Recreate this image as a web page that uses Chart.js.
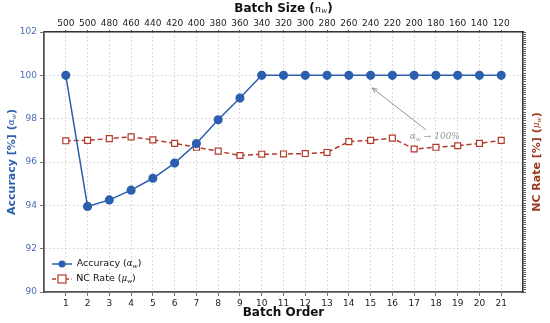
<!DOCTYPE html>
<html>
<head>
<meta charset="utf-8">
<script src="https://cdn.jsdelivr.net/npm/chart.js@4.4.0/dist/chart.umd.min.js"></script>
<style>
  html, body { margin: 0; padding: 0; background: #fff; }
</style>
</head>
<body>
<canvas id="myChart" width="550" height="323"></canvas>
<script>
const batchOrder = [1, 2, 3, 4, 5, 6, 7, 8, 9, 10, 11, 12, 13, 14, 15, 16, 17, 18, 19, 20, 21];
const batchSize = [500, 500, 480, 460, 440, 420, 400, 380, 360, 340, 320, 300, 280, 260, 240, 220, 200, 180, 160, 140, 120];
const accuracy = [100, 93.95, 94.25, 94.7, 95.25, 95.95, 96.85, 97.95, 98.95, 100, 100, 100, 100, 100, 100, 100, 100, 100, 100, 100, 100];
const ncRate = [96.98, 97.0, 97.08, 97.16, 97.02, 96.86, 96.68, 96.5, 96.3, 96.36, 96.37, 96.39, 96.44, 96.94, 97.0, 97.1, 96.6, 96.68, 96.75, 96.86, 97.0];
const yTicks = [90, 92, 94, 96, 98, 100, 102];

const BLUE = "#2c5fae";
const RED = "#b23b2c";
const FONT = "'DejaVu Sans', sans-serif";

// dense minor ticks on the right axis
const rightTicks = [];
for (let i = 0; i <= 120; i++) rightTicks.push(90 + i * 0.1);

function richText(ctx, parts, x, y, rot) {
  ctx.save();
  ctx.translate(x, y);
  ctx.rotate(rot || 0);
  let w = 0;
  parts.forEach((p) => { ctx.font = p.font; w += ctx.measureText(p.text).width; });
  let cx = -w / 2;
  ctx.textBaseline = "middle";
  ctx.textAlign = "left";
  parts.forEach((p) => {
    ctx.font = p.font;
    ctx.fillStyle = p.color;
    ctx.fillText(p.text, cx, p.dy || 0);
    cx += ctx.measureText(p.text).width;
  });
  ctx.restore();
}

function sub(label, sym, color, size) {
  return [
    { text: label + " (", font: "bold " + size + "px " + FONT, color: color },
    { text: sym, font: "italic " + (size - 2) + "px 'DejaVu Serif', serif", color: color },
    { text: "w", font: "italic " + (size - 5) + "px 'DejaVu Serif', serif", color: color, dy: 2 },
    { text: ")", font: "bold " + size + "px " + FONT, color: color },
  ];
}

const extras = {
  id: "extras",
  afterDraw(chart) {
    const ctx = chart.ctx;
    const a = chart.chartArea;
    const x = chart.scales.x, y = chart.scales.y;
    const midX = (a.left + a.right) / 2;
    const midY = (a.top + a.bottom) / 2;

    // axis titles
    richText(ctx, [{ text: "Batch Order", font: "bold 12px " + FONT, color: "#111" }], midX, 313);
    richText(ctx, sub("Batch Size", "n", "#111", 12), midX, 9);
    richText(ctx, sub("Accuracy [%]", "α", BLUE, 11), 12, midY, -Math.PI / 2);
    richText(ctx, sub("NC Rate [%]", "μ", "#9a3a20", 11), 537, midY, -Math.PI / 2);

    // annotation arrow
    const tx = x.getPixelForValue(17.55), ty = y.getPixelForValue(97.48);
    const hx = x.getPixelForValue(15.07), hy = y.getPixelForValue(99.42);
    ctx.save();
    ctx.strokeStyle = "#8a8a8a";
    ctx.lineWidth = 0.9;
    ctx.beginPath();
    ctx.moveTo(tx, ty);
    ctx.lineTo(hx, hy);
    const ang = Math.atan2(hy - ty, hx - tx);
    ctx.moveTo(hx, hy);
    ctx.lineTo(hx - 6 * Math.cos(ang - 0.4), hy - 6 * Math.sin(ang - 0.4));
    ctx.moveTo(hx, hy);
    ctx.lineTo(hx - 6 * Math.cos(ang + 0.4), hy - 6 * Math.sin(ang + 0.4));
    ctx.stroke();
    ctx.restore();
    richText(ctx, [
      { text: "α", font: "italic 9px 'DejaVu Serif', serif", color: "#999" },
      { text: "w", font: "italic 6px 'DejaVu Serif', serif", color: "#999", dy: 2 },
      { text: " → 100%", font: "italic 9px 'DejaVu Serif', serif", color: "#999" },
    ], x.getPixelForValue(17.95), y.getPixelForValue(97.15));

    // legend
    ctx.save();
    const lx = 52, ly1 = 264, ly2 = 279;
    ctx.strokeStyle = BLUE;
    ctx.lineWidth = 1.5;
    ctx.beginPath(); ctx.moveTo(lx, ly1); ctx.lineTo(lx + 20, ly1); ctx.stroke();
    ctx.fillStyle = BLUE;
    ctx.beginPath(); ctx.arc(lx + 10, ly1, 3.5, 0, Math.PI * 2); ctx.fill();
    ctx.strokeStyle = RED;
    ctx.setLineDash([4, 2.5]);
    ctx.beginPath(); ctx.moveTo(lx, ly2); ctx.lineTo(lx + 20, ly2); ctx.stroke();
    ctx.setLineDash([]);
    ctx.fillStyle = "#fff";
    ctx.fillRect(lx + 6, ly2 - 4, 8, 8);
    ctx.lineWidth = 1.2;
    ctx.strokeRect(lx + 6, ly2 - 4, 8, 8);
    ctx.restore();
    richText(ctx, [
      { text: "Accuracy (", font: "9.5px " + FONT, color: "#111" },
      { text: "α", font: "italic 8.5px 'DejaVu Serif', serif", color: "#111" },
      { text: "w", font: "italic 6px 'DejaVu Serif', serif", color: "#111", dy: 2 },
      { text: ")", font: "9.5px " + FONT, color: "#111" },
    ], lx + 27 + 30, ly1);
    richText(ctx, [
      { text: "NC Rate (", font: "9.5px " + FONT, color: "#111" },
      { text: "μ", font: "italic 8.5px 'DejaVu Serif', serif", color: "#111" },
      { text: "w", font: "italic 6px 'DejaVu Serif', serif", color: "#111", dy: 2 },
      { text: ")", font: "9.5px " + FONT, color: "#111" },
    ], lx + 27 + 27, ly2);
  },
};

const fixTicks = (vals) => (scale) => { scale.ticks = vals.map((v) => ({ value: v })); };

new Chart(document.getElementById("myChart").getContext("2d"), {
  type: "line",
  data: {
    datasets: [
      {
        label: "Accuracy",
        data: batchOrder.map((b, i) => ({ x: b, y: accuracy[i] })),
        borderColor: BLUE,
        backgroundColor: BLUE,
        borderWidth: 1.5,
        pointRadius: 3.8,
        pointHoverRadius: 3.8,
        pointStyle: "circle",
        yAxisID: "y",
        order: 1,
      },
      {
        label: "NC Rate",
        data: batchOrder.map((b, i) => ({ x: b, y: ncRate[i] })),
        borderColor: RED,
        backgroundColor: "#fff",
        borderWidth: 1.5,
        borderDash: [5, 3],
        pointRadius: 4.2,
        pointHoverRadius: 4.2,
        pointBorderWidth: 1.2,
        pointStyle: "rect",
        yAxisID: "y",
        order: 2,
      },
    ],
  },
  options: {
    responsive: false,
    animation: false,
    devicePixelRatio: 1,
    layout: { padding: 0 },
    plugins: { legend: { display: false }, tooltip: { enabled: false } },
    scales: {
      x: {
        type: "linear",
        position: "bottom",
        min: 0,
        max: 22,
        afterBuildTicks: fixTicks(batchOrder),
        afterFit: (s) => { s.height = 31; },
        ticks: { autoSkip: false, maxRotation: 0, padding: 2, color: "#222", font: { family: FONT, size: 9 } },
        grid: { color: "#d0d0d0", lineWidth: 0.8, tickColor: "#555", tickLength: 4, drawTicks: true },
        border: { color: "#555", width: 1.8, dash: [2, 2] },
      },
      x2: {
        type: "linear",
        position: "top",
        min: 0,
        max: 22,
        afterBuildTicks: fixTicks(batchOrder),
        afterFit: (s) => { s.height = 32; },
        ticks: {
          autoSkip: false, maxRotation: 0, padding: 1, color: "#222", font: { family: FONT, size: 9 },
          callback: (v) => batchSize[v - 1],
        },
        grid: { drawOnChartArea: false, tickColor: "#555", tickLength: 2 },
        border: { color: "#333", width: 1.5 },
      },
      y: {
        position: "left",
        min: 90,
        max: 102,
        afterBuildTicks: fixTicks(yTicks),
        afterFit: (s) => { s.width = 44; },
        ticks: { color: "#4a6db3", padding: 3, font: { family: FONT, size: 9 } },
        grid: { color: "#d0d0d0", lineWidth: 0.8, tickColor: "#555", tickLength: 4 },
        border: { color: "#555", width: 1.8, dash: [2, 2] },
      },
      y2: {
        position: "right",
        min: 90,
        max: 102,
        afterBuildTicks: fixTicks(rightTicks),
        afterFit: (s) => { s.width = 27; },
        ticks: { display: false },
        grid: { drawOnChartArea: false, tickColor: "#333", tickLength: 3, lineWidth: 0.8 },
        border: { color: "#333", width: 1.5 },
      },
    },
  },
  plugins: [extras],
});
</script>
</body>
</html>
